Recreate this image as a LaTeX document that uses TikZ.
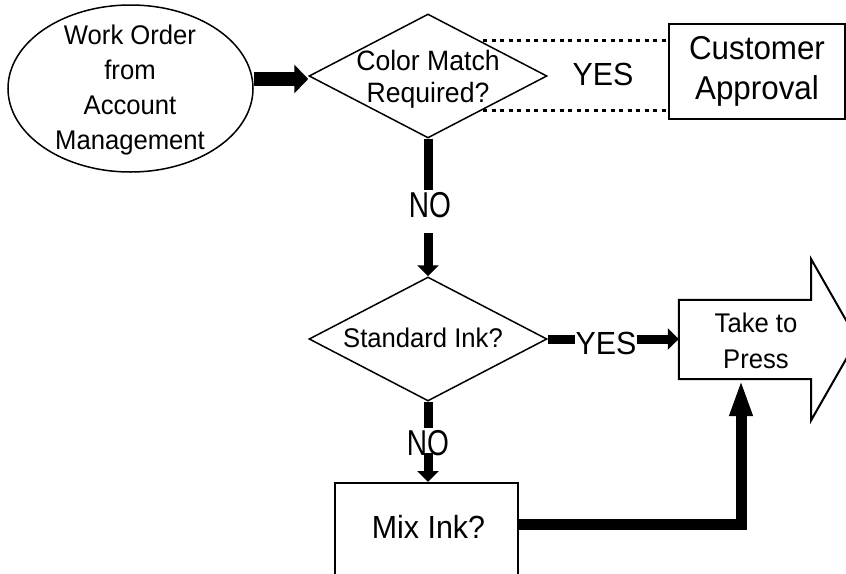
\documentclass[tikz,border=0pt]{standalone}
\usepackage{fontspec}
\setmainfont{Liberation Sans}[FakeStretch=0.95]
\newfontfamily\nofont{Liberation Sans}[FakeStretch=0.78]
\usetikzlibrary{shapes.geometric,arrows.meta,calc}
\begin{document}
\begin{tikzpicture}[x=1pt,y=-1pt,
  shp/.style={draw,line width=1.5pt,inner sep=0pt},
  dia/.style={shp,diamond,minimum width=238pt,minimum height=124pt},
  txt/.style={inner sep=0pt,align=center},
  small/.style={txt,font=\fontsize{27}{35}\selectfont},
  big/.style={txt,font=\fontsize{32}{40}\selectfont},
  nolab/.style={txt,font=\nofont\fontsize{36}{40}\selectfont},
  bigarr/.style={line width=14pt,-{Triangle[length=14pt,width=28pt]}},
  arr/.style={line width=9pt,-{Triangle[length=11pt,width=21pt]}},
  thk/.style={line width=9pt},
  uparr/.style={line width=11pt,line join=miter,-{Triangle[length=37pt,width=21pt]}},
  dotl/.style={line width=3pt,dash pattern=on 4pt off 4.5pt}
]
\useasboundingbox (0,0) rectangle (846,573);
\fill[white] (0,0) rectangle (846,573);
\clip (0,0) rectangle (846,573);

% start ellipse
\node[shp,ellipse,minimum width=245pt,minimum height=167pt] (e) at (130.5,88.5) {};
\node[small] (et) at (130,90) {Work Order\\from\\Account\\Management};

% decision 1
\node[dia] (d1) at (428,76) {};
\node[txt,font=\fontsize{28}{32}\selectfont] (d1t) at (428,79) {Color Match\\Required?};

% customer approval
\node[draw,line width=2.5pt,minimum width=176pt,minimum height=95pt,txt,font=\fontsize{33}{40}\selectfont] (cust) at (757,71.5) {Customer\\Approval};
\node[big] (yes1) at (603,74) {YES};
\coordinate (dt1) at (483,40);
\coordinate (dt2) at (483,110);
\draw[dotl] (dt1) -- (dt1 -| cust.west);
\draw[dotl] (dt2) -- (dt2 -| cust.west);

% arrow ellipse -> decision 1
\draw[bigarr] ([yshift=-3pt]d1.west -| e.east) -- ([yshift=-3pt]d1.west);

% NO 1
\node[nolab] (no1) at (430,205) {NO};
\node[dia] (d2) at (428,339) {};
\node[small] (d2t) at (423,338) {Standard Ink?};
\coordinate (n1a) at (428,190);
\coordinate (n1b) at (428,233);
\draw[thk] (d1.south) -- (n1a);
\draw[arr] (n1b) -- (d2.north);

% take to press
\node[minimum width=132pt,minimum height=79pt,inner sep=0pt] (tp) at (745,339.5) {};
\draw[line width=2pt,line join=miter] (tp.north east) -- (tp.north west) -- (tp.south west) -- (tp.south east) -- ++(0,41) -- ++(46,-80.5) -- ++(-46,-80.5) -- cycle;
\node[small,font=\fontsize{27}{36}\selectfont] (tpt) at (756,341) {Take to\\Press};

% YES 2
\node[big] (yes2) at (606,343) {YES};
\draw[thk] (d2.east) -- (d2.east -| yes2.west);
\draw[arr] (d2.east -| yes2.east) -- (d2.east -| tp.west);

% NO 2
\node[draw,line width=2pt,minimum width=183pt,minimum height=130pt,anchor=north,inner sep=0pt] (mix) at (426.5,482) {};
\node[big] (mixt) at (428.5,527) {Mix Ink?};
\node[nolab] (no2) at (428,443) {NO};
\coordinate (n2a) at (428,428);
\coordinate (n2b) at (428,453);
\draw[thk] (d2.south) -- (n2a);
\draw[arr] (n2b) -- (n2b |- mix.north);

% mix -> take to press
\coordinate (corner) at (741,524);
\draw[uparr] (mix.east |- corner) -- (corner) -- (corner |- tp.south);
\end{tikzpicture}
\end{document}
